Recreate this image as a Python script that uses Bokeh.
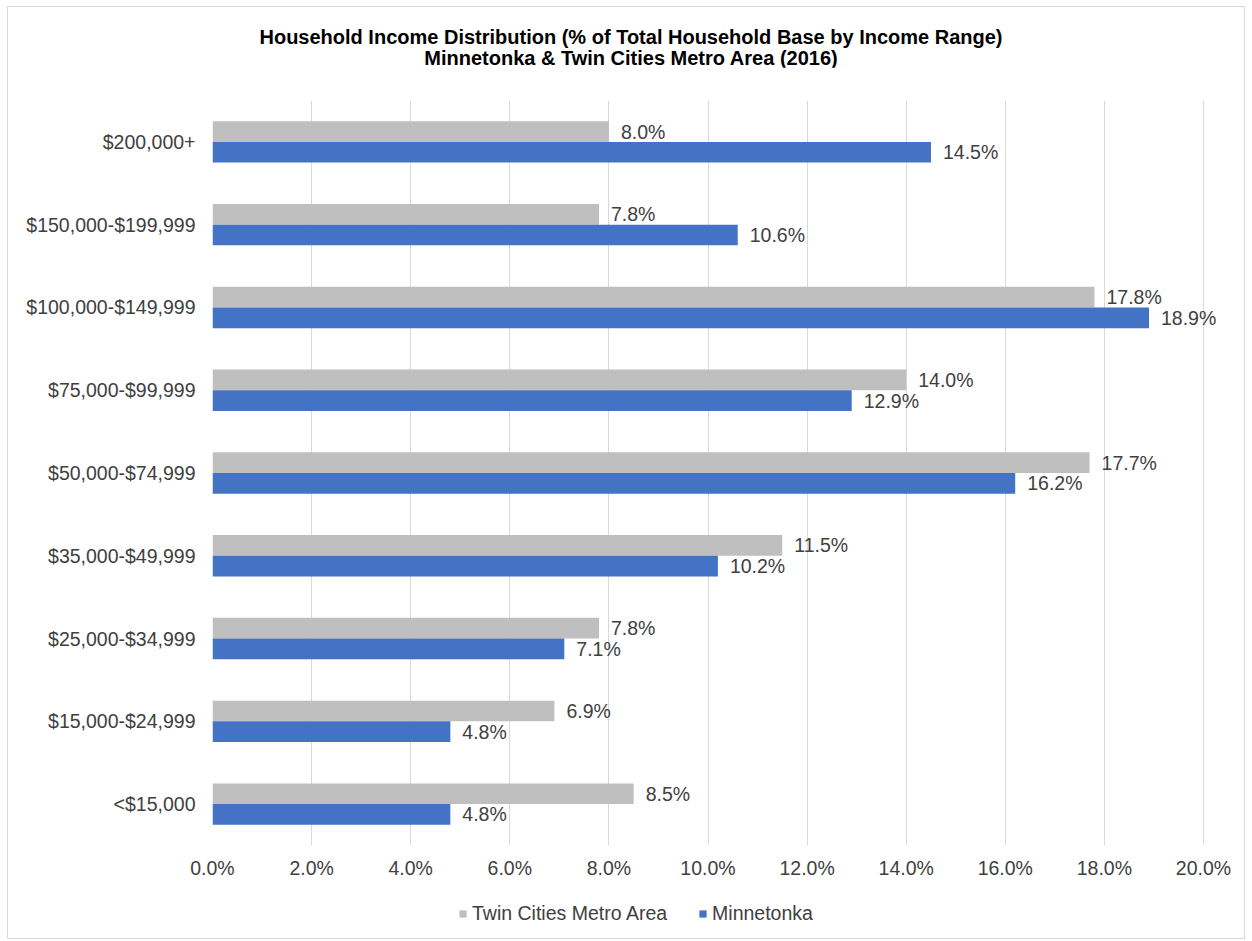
from bokeh.plotting import figure
from bokeh.layouts import column
from bokeh.models import (ColumnDataSource, FactorRange, Range1d, FixedTicker,
                          PrintfTickFormatter, Legend, LegendItem, Div)
from bokeh.transform import dodge
from bokeh.embed import file_html
from bokeh.resources import INLINE

# ---- data (top to bottom as shown) ----
title_lines = ["Household Income Distribution (% of Total Household Base by Income Range)",
               "Minnetonka &amp; Twin Cities Metro Area (2016)"]
categories = ["$200,000+", "$150,000-$199,999", "$100,000-$149,999",
              "$75,000-$99,999", "$50,000-$74,999", "$35,000-$49,999",
              "$25,000-$34,999", "$15,000-$24,999", "<$15,000"]
twin_cities = [8.0, 7.8, 17.8, 14.0, 17.7, 11.5, 7.8, 6.9, 8.5]
minnetonka = [14.5, 10.6, 18.9, 12.9, 16.2, 10.2, 7.1, 4.8, 4.8]
x_ticks = [0, 2, 4, 6, 8, 10, 12, 14, 16, 18, 20]
series_names = ["Twin Cities Metro Area", "Minnetonka"]

GREY = "#BFBFBF"
BLUE = "#4472C4"
TXT = "#404040"
FONT = "Liberation Sans"
FS = "19.5px"

src = ColumnDataSource(dict(
    cat=categories,
    twin=twin_cities,
    minn=minnetonka,
    twin_lbl=[f"{v:.1f}%" for v in twin_cities],
    minn_lbl=[f"{v:.1f}%" for v in minnetonka],
))

# frame extends to the right edge so that labels past 20% are not clipped
FRAME_W = 1032
X_END = 20 * FRAME_W / 991.0

p = figure(frame_width=FRAME_W, frame_height=745,
           y_range=FactorRange(factors=list(reversed(categories))),
           x_range=Range1d(0, X_END),
           output_backend="svg", toolbar_location=None,
           min_border_left=204, min_border_right=0,
           min_border_top=33, min_border_bottom=45)
p.outline_line_color = None
p.background_fill_color = "white"
p.border_fill_color = "white"

r_grey = p.hbar(y=dodge("cat", 0.125, range=p.y_range), right="twin", left=0,
                height=0.25, source=src, fill_color=GREY, line_color=None)
r_blue = p.hbar(y=dodge("cat", -0.125, range=p.y_range), right="minn", left=0,
                height=0.25, source=src, fill_color=BLUE, line_color=None)

p.text(x="twin", y=dodge("cat", 0.125, range=p.y_range), text="twin_lbl",
       source=src, x_offset=12, text_baseline="middle", text_align="left",
       text_font_size=FS, text_color=TXT, text_font={"value": FONT})
p.text(x="minn", y=dodge("cat", -0.125, range=p.y_range), text="minn_lbl",
       source=src, x_offset=12, text_baseline="middle", text_align="left",
       text_font_size=FS, text_color=TXT, text_font={"value": FONT})

# axes
p.xaxis.ticker = FixedTicker(ticks=x_ticks)
p.xaxis.formatter = PrintfTickFormatter(format="%.1f%%")
p.xaxis.axis_line_color = None
p.xaxis.major_tick_line_color = None
p.xaxis.minor_tick_line_color = None
p.xaxis.major_tick_out = 0
p.xaxis.major_tick_in = 0
p.xaxis.major_label_standoff = 11
p.xaxis.major_label_text_font_size = FS
p.xaxis.major_label_text_color = TXT
p.xaxis.major_label_text_font = FONT

p.yaxis.axis_line_color = None
p.yaxis.major_tick_line_color = None
p.yaxis.minor_tick_line_color = None
p.yaxis.major_tick_out = 0
p.yaxis.major_tick_in = 0
p.yaxis.major_label_standoff = 17
p.yaxis.major_label_text_font_size = FS
p.yaxis.major_label_text_color = TXT
p.yaxis.major_label_text_font = FONT

p.xgrid.grid_line_color = "#D9D9D9"
p.xgrid.grid_line_width = 1
p.ygrid.grid_line_color = None

# ---- legend strip (separate figure so it can sit anywhere horizontally) ----
lg = figure(frame_width=1236, frame_height=48,
            x_range=Range1d(-1, 0), y_range=Range1d(-1, 0),
            x_axis_type=None, y_axis_type=None,
            output_backend="svg", toolbar_location=None,
            min_border_left=0, min_border_right=0,
            min_border_top=0, min_border_bottom=0)
lg.outline_line_color = None
lg.grid.visible = False
lg.background_fill_color = "white"
lg.border_fill_color = "white"
# proxy renderers for the legend swatches (their data lies outside this strip's view)
lr_grey = lg.hbar(y="twin", right="twin", left=0, height=0.25, source=src,
                  fill_color=GREY, line_color=None)
lr_blue = lg.hbar(y="minn", right="minn", left=0, height=0.25, source=src,
                  fill_color=BLUE, line_color=None)

legend = Legend(items=[LegendItem(label=series_names[0], renderers=[lr_grey]),
                       LegendItem(label=series_names[1], renderers=[lr_blue])],
                orientation="horizontal", location=(450, 13),
                glyph_width=9, glyph_height=9, label_standoff=5, spacing=31,
                label_text_font_size=FS, label_text_color=TXT,
                label_text_font=FONT, border_line_color=None,
                background_fill_alpha=0, margin=0, padding=0)
lg.add_layout(legend, "center")

title_html = (
    "<div style=\"width:1236px; box-sizing:border-box; padding:20px 0 0 10px; "
    "text-align:center; font-family:'Liberation Sans', Arial, sans-serif; "
    "font-weight:bold; font-size:20px; line-height:21px; color:#000;\">"
    + "<br>".join(title_lines) + "</div>"
)
title_div = Div(text=title_html, width=1236, height=60, margin=0,
                styles={"background-color": "white"})

layout = column(title_div, p, lg, spacing=0,
                styles={"border": "1px solid #D9D9D9", "margin": "6px 0 0 7px",
                        "background-color": "white"})

open("out.html", "w").write(file_html(layout, INLINE))
